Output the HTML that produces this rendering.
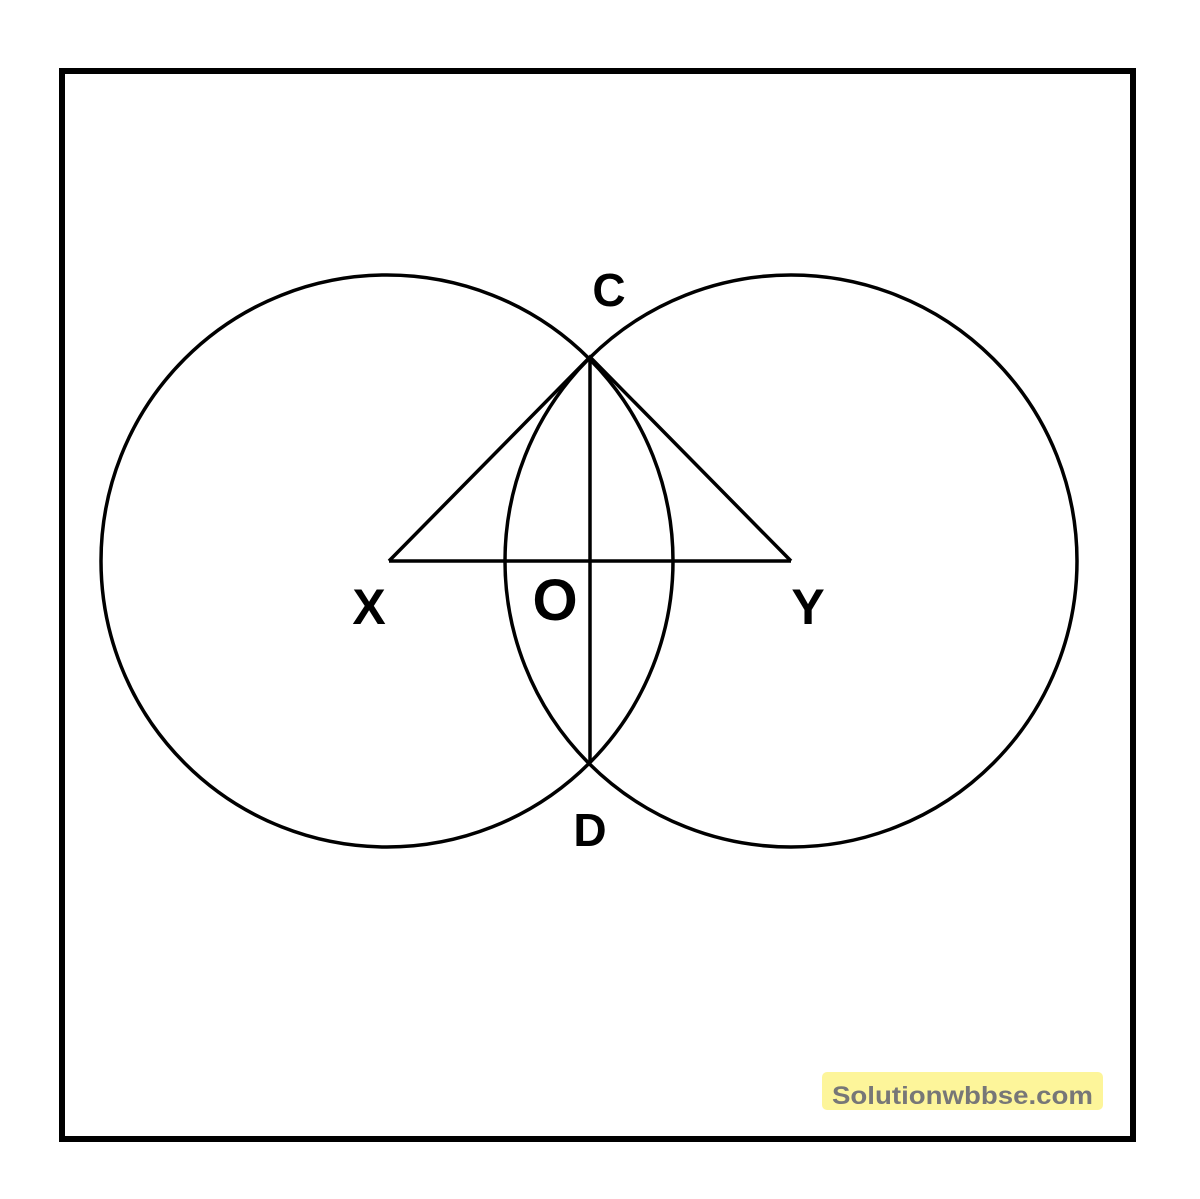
<!DOCTYPE html>
<html><head><style>body{margin:0;background:#fff}svg{display:block}</style></head>
<body>
<svg width="1200" height="1199" viewBox="0 0 1200 1199" xmlns="http://www.w3.org/2000/svg">
<rect x="62" y="71" width="1071" height="1068" fill="none" stroke="#000" stroke-width="6"/>
<g fill="none" stroke="#000" stroke-width="3.5">
<circle cx="387" cy="561" r="286"/>
<circle cx="791" cy="561" r="286"/>
<polyline points="389,561 590,357 791,561"/>
<line x1="389" y1="561" x2="791" y2="561"/>
<line x1="590" y1="357" x2="590" y2="762"/>
</g>
<g font-family="Liberation Sans, sans-serif" font-weight="bold" fill="#000" text-anchor="middle">
<text x="609" y="306" font-size="46">C</text>
<text x="369" y="624" font-size="50">X</text>
<text x="555" y="620" font-size="58">O</text>
<text x="808" y="624" font-size="50">Y</text>
<text x="590" y="846" font-size="46">D</text>
</g>
<rect x="822" y="1072" width="281" height="38" rx="5" fill="#fdf59a"/>
<text x="832" y="1104" font-family="Liberation Sans, sans-serif" font-weight="bold" font-size="25" fill="#777" textLength="261" lengthAdjust="spacingAndGlyphs">Solutionwbbse.com</text>
</svg>
</body></html>
